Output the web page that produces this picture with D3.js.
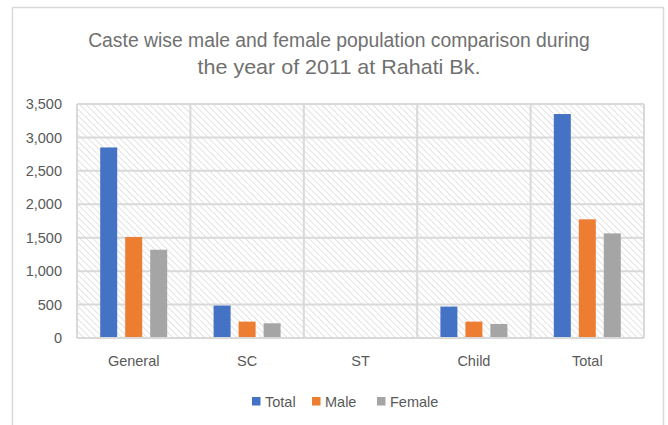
<!DOCTYPE html>
<html>
<head>
<meta charset="utf-8">
<script src="https://cdn.jsdelivr.net/npm/d3@7"></script>
<style>
  html, body { margin: 0; padding: 0; background: #fff; }
  svg { display: block; }
</style>
</head>
<body>
<div id="chart"></div>
<script>
// data
const categories = ['General', 'SC', 'ST', 'Child', 'Total'];
const seriesNames = ['Total', 'Male', 'Female'];
const totalValues = [2850, 485, 0, 470, 3350];
const maleValues = [1510, 245, 0, 245, 1775];
const femaleValues = [1320, 220, 0, 210, 1565];
const yTicks = [0, 500, 1000, 1500, 2000, 2500, 3000, 3500];
const titleLines = ['Caste wise male and female population comparison during', 'the year of 2011 at Rahati Bk.'];

const colors = ['#4472C4', '#ED7D31', '#A5A5A5'];
const seriesValues = [totalValues, maleValues, femaleValues];

const width = 668, height = 425;
const margin = { top: 104, right: 24, bottom: 87, left: 77 };
const gridColor = '#d9d9d9';
const textColor = '#595959';
const font = '"Liberation Sans", Arial, sans-serif';

const svg = d3.select('#chart').append('svg')
  .attr('width', width)
  .attr('height', height);

// hatch pattern for plot area
const defs = svg.append('defs');
const pat = defs.append('pattern')
  .attr('id', 'hatch')
  .attr('patternUnits', 'userSpaceOnUse')
  .attr('width', 4.5)
  .attr('height', 4.5)
  .attr('patternTransform', 'rotate(-45)');
pat.append('rect').attr('width', 4.5).attr('height', 4.5).attr('fill', '#fff');
pat.append('line')
  .attr('x1', 0).attr('y1', 0).attr('x2', 0).attr('y2', 4.5)
  .attr('stroke', '#dcdcdc').attr('stroke-width', 1.6);

// chart frame
svg.append('rect')
  .attr('x', 12.5).attr('y', 7.5)
  .attr('width', 651).attr('height', 430)
  .attr('fill', '#fff')
  .attr('stroke', gridColor)
  .attr('stroke-width', 1.5);

const x0 = d3.scaleBand()
  .domain(categories)
  .range([margin.left, width - margin.right])
  .paddingInner(0).paddingOuter(0);

const groupPad = (x0.bandwidth() - 67) / 2;
const x1 = d3.scaleBand()
  .domain(seriesNames)
  .range([groupPad, x0.bandwidth() - groupPad])
  .paddingInner(0.32).paddingOuter(0);

const y = d3.scaleLinear()
  .domain([0, 3500])
  .range([height - margin.bottom, margin.top]);

const plotW = width - margin.right - margin.left;
const plotH = height - margin.bottom - margin.top;

svg.append('rect')
  .attr('x', margin.left).attr('y', margin.top)
  .attr('width', plotW).attr('height', plotH)
  .attr('fill', 'url(#hatch)');

// horizontal gridlines
svg.append('g')
  .selectAll('line')
  .data(yTicks)
  .join('line')
  .attr('x1', margin.left).attr('x2', width - margin.right)
  .attr('y1', d => y(d)).attr('y2', d => y(d))
  .attr('stroke', gridColor).attr('stroke-width', 2);

// vertical gridlines at category boundaries
const bounds = categories.map(c => x0(c)).concat([width - margin.right]);
svg.append('g')
  .selectAll('line')
  .data(bounds)
  .join('line')
  .attr('x1', d => d).attr('x2', d => d)
  .attr('y1', margin.top).attr('y2', height - margin.bottom)
  .attr('stroke', gridColor).attr('stroke-width', 2);

// y axis labels
const yAxis = svg.append('g')
  .attr('transform', `translate(${margin.left - 15},0)`)
  .call(d3.axisLeft(y).tickValues(yTicks).tickFormat(d3.format(',')).tickSize(0).tickPadding(0));
yAxis.select('.domain').remove();
yAxis.selectAll('text')
  .attr('fill', textColor)
  .style('font-family', font)
  .style('font-size', '14.5px');

// bars
const groups = svg.append('g')
  .selectAll('g')
  .data(categories)
  .join('g')
  .attr('transform', d => `translate(${x0(d)},0)`);

groups.selectAll('rect')
  .data((c, i) => seriesNames.map((s, j) => ({ s, j, v: seriesValues[j][i] })))
  .join('rect')
  .attr('x', d => x1(d.s))
  .attr('width', x1.bandwidth())
  .attr('y', d => y(d.v))
  .attr('height', d => y(0) - y(d.v))
  .attr('fill', d => colors[d.j]);

// x axis line drawn over bars
svg.append('line')
  .attr('x1', margin.left).attr('x2', width - margin.right)
  .attr('y1', y(0)).attr('y2', y(0))
  .attr('stroke', gridColor).attr('stroke-width', 2);

// x axis labels
const xAxis = svg.append('g')
  .attr('transform', `translate(0,${y(0) + 18})`)
  .call(d3.axisBottom(x0).tickSize(0).tickPadding(0));
xAxis.select('.domain').remove();
xAxis.selectAll('text')
  .attr('fill', textColor)
  .attr('dy', '0.71em')
  .style('font-family', font)
  .style('font-size', '14.5px');

// title - each line condensed horizontally to mimic the narrow original face
const cx = 339;
const titleWidths = [502, 283];
svg.append('g')
  .selectAll('g')
  .data(titleLines)
  .join('g')
  .each(function (d, i) {
    const g = d3.select(this);
    const t = g.append('text')
      .attr('x', cx)
      .attr('y', 47 + i * 27)
      .attr('text-anchor', 'middle')
      .attr('fill', '#707070')
      .style('font-family', font)
      .style('font-size', '21px')
      .text(d);
    const sx = titleWidths[i] / t.node().getComputedTextLength();
    g.attr('transform', `translate(${cx},0) scale(${sx},1) translate(${-cx},0)`);
  });

// legend
const legendX = [252, 312, 377];
const legend = svg.append('g')
  .selectAll('g')
  .data(seriesNames)
  .join('g')
  .attr('transform', (d, i) => `translate(${legendX[i]},397)`);
legend.append('rect')
  .attr('width', 8.5).attr('height', 8.5)
  .attr('fill', (d, i) => colors[i]);
legend.append('text')
  .attr('x', 13).attr('y', 9.5)
  .attr('fill', textColor)
  .style('font-family', font)
  .style('font-size', '14.5px')
  .text(d => d);
</script>
</body>
</html>
